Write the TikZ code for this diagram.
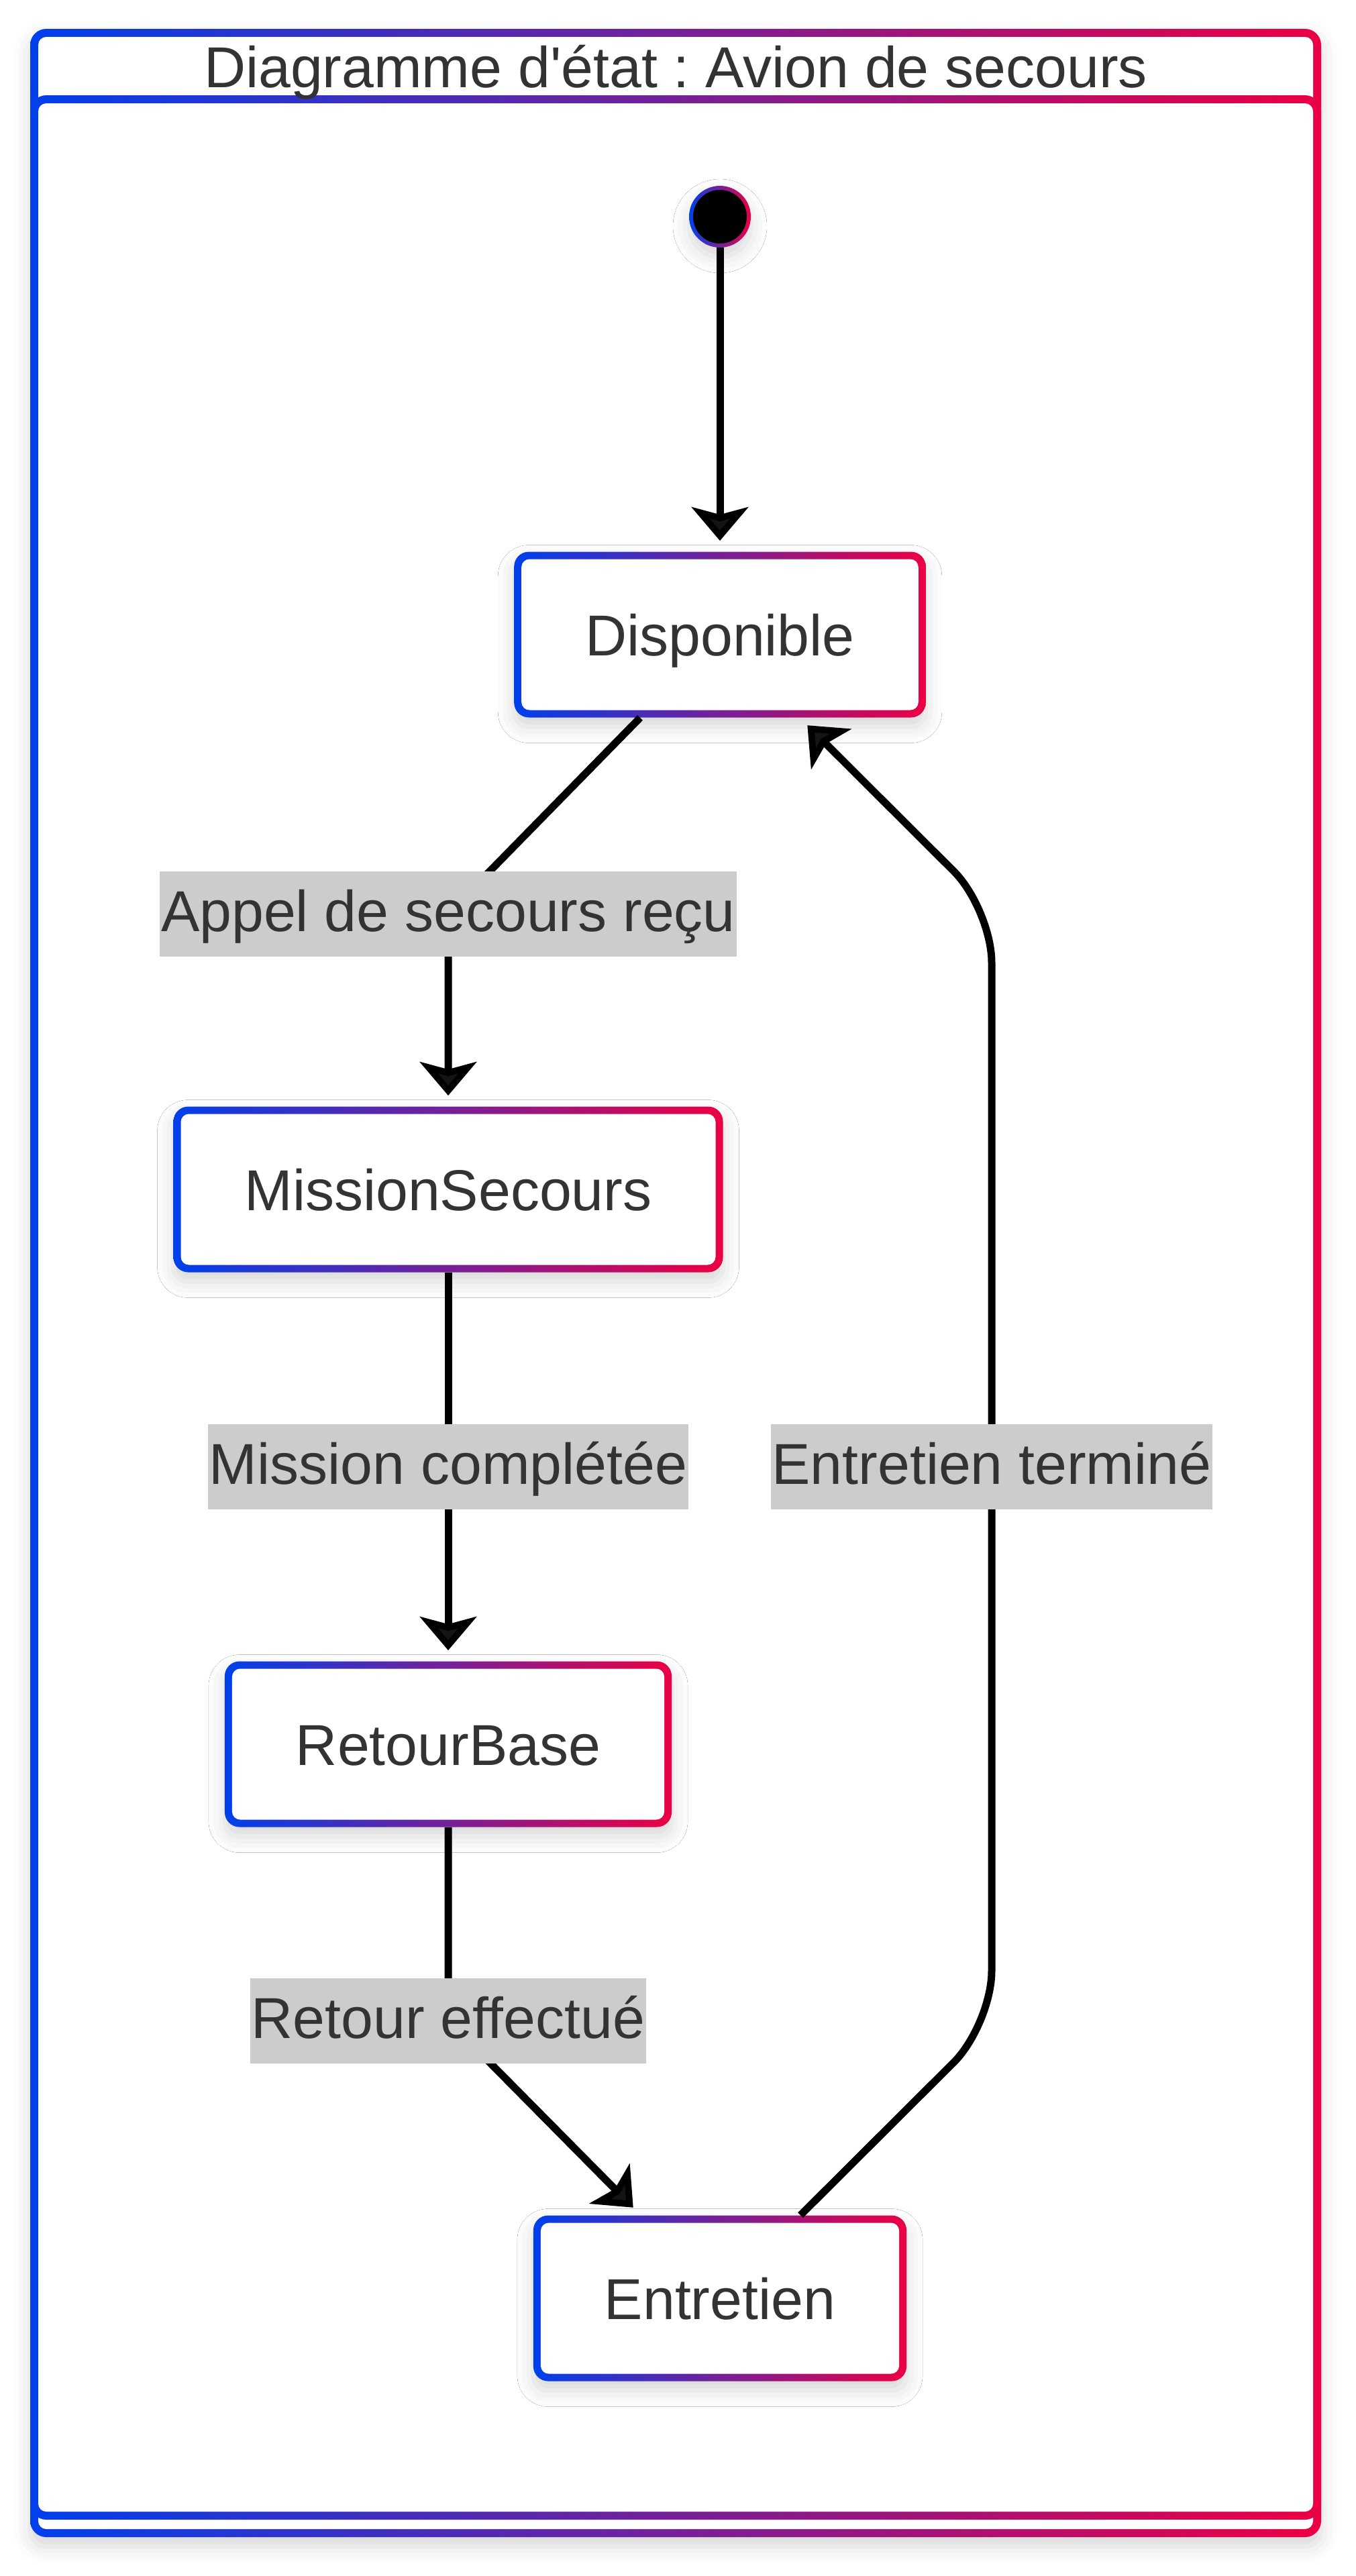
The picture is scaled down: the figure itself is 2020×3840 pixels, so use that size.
\documentclass[tikz,border=0pt]{standalone}
\usepackage{fontspec}
\usetikzlibrary{arrows.meta,shadows.blur}
\newfontfamily\diagfam{Liberation Sans}
\newcommand\diagfont{\diagfam\fontsize{43pt}{52pt}\selectfont}
\definecolor{gblue}{RGB}{0,64,235}
\definecolor{gred}{RGB}{235,0,68}
\definecolor{ink}{HTML}{333333}
\definecolor{lgrey}{HTML}{CCCCCC}
\frenchspacing

\begin{document}
\begin{tikzpicture}[x=0.5pt,y=-0.5pt,
  softshadow/.style={blur shadow={shadow xshift=0pt,shadow yshift=-7pt,shadow blur radius=12pt,shadow opacity=16}},
  statebox/.style={rectangle,rounded corners=11pt,left color=gblue,right color=gred,
    minimum height=123.5pt,inner xsep=53pt,inner ysep=0pt,text height=31pt,text depth=0pt,
    font=\diagfont,text=ink,softshadow,
    path picture={\fill[white,rounded corners=6pt]
      ([shift={(5.5pt,5.5pt)}]path picture bounding box.south west) rectangle
      ([shift={(-5.5pt,-5.5pt)}]path picture bounding box.north east);}},
  initstate/.style={circle,minimum size=46pt,inner sep=0pt,left color=gblue,right color=gred,softshadow,
    path picture={\fill[black] (path picture bounding box.center) circle (20pt);}},
  guardlbl/.style={fill=lgrey,text=ink,font=\diagfont,inner xsep=1pt,inner ysep=0pt,
    text height=35pt,text depth=9pt,minimum height=63.5pt},
  conn/.style={line width=5.5pt,-{Stealth[length=25pt,width=42pt,inset=5.5pt]},shorten >=8pt}]
\useasboundingbox (0,0) rectangle (2020,3840);
% frame
\shade[left color=gblue,right color=gred,rounded corners=12pt,softshadow] (45,43) rectangle (1969,3782);
\fill[white,rounded corners=6pt] (57,55) rectangle (1957,3770);
\shade[left color=gblue,right color=gred,rounded corners=12pt] (45,142) rectangle (1969,3756);
\fill[white,rounded corners=6pt] (57,154) rectangle (1957,3744);
\node[font=\diagfont,text=ink,text height=31pt,text depth=0pt,inner sep=0pt] (title) at (1007,99) {Diagramme d'état : Avion de secours};
% states
\node[initstate] (init) at (1073,323) {};
\node[statebox] (disp) at (1073,946) {Disponible};
\node[statebox] (mis) at (668,1773) {MissionSecours};
\node[statebox] (ret) at (668,2600) {RetourBase};
\node[statebox] (ent) at (1073,3426) {Entretien};
\coordinate (cA) at (668,1362);
\coordinate (cB) at (668,2186);
\coordinate (cC) at (668,3012);
\coordinate (cD) at (1478,2186);
\coordinate (r1) at (1478,3018);
\coordinate (r2) at (1478,1355);
% transitions
\draw[conn] (init) -- (disp);
\draw[conn,rounded corners=20pt] ([xshift=-59.5pt]disp.south) -- (cA) -- (mis);
\draw[conn] (mis) -- (cB) -- (ret);
\draw[conn,rounded corners=20pt] (ret) -- (cC) -- ([xshift=-59pt]ent.north);
\draw[conn,rounded corners=40pt] ([xshift=60pt]ent.north) -- (r1) -- (r2) -- ([xshift=59.5pt]disp.south);
\node[guardlbl] (lblA) at (cA) {Appel de secours reçu};
\node[guardlbl] (lblB) at (cB) {Mission complétée};
\node[guardlbl] (lblC) at (cC) {Retour effectué};
\node[guardlbl] (lblD) at (cD) {Entretien terminé};
\end{tikzpicture}
\end{document}
